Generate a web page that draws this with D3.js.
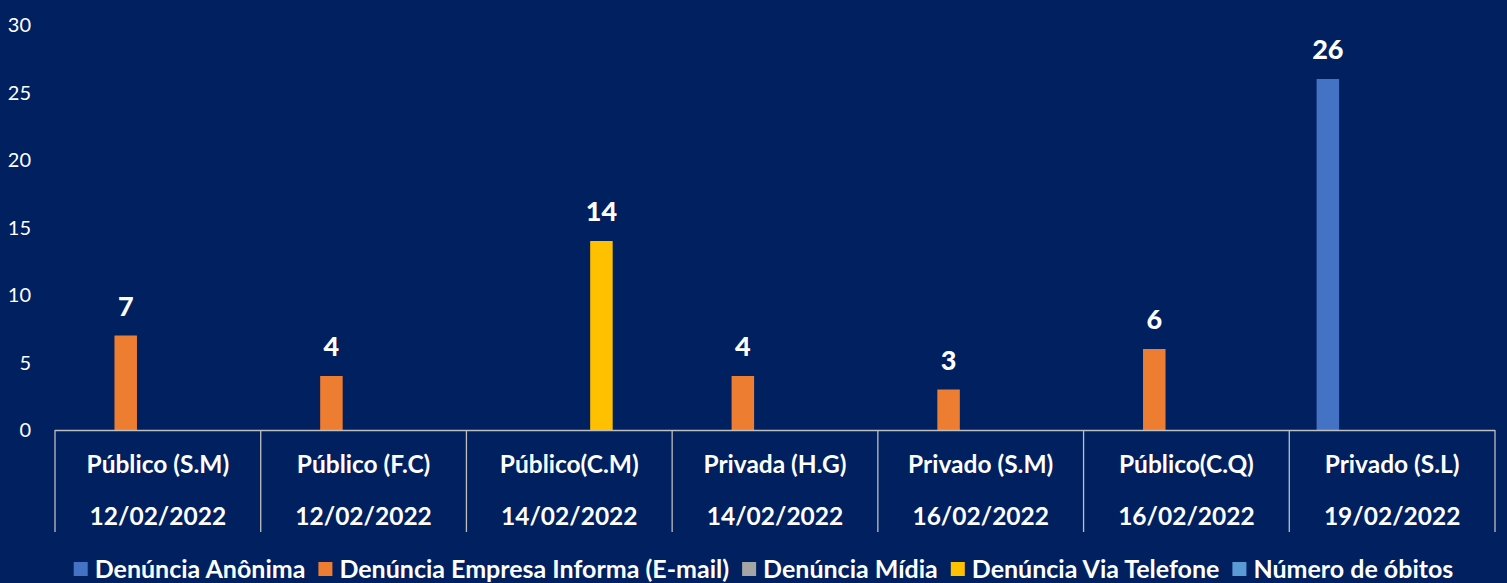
<!DOCTYPE html>
<html>
<head>
  <meta charset="utf-8">
  <script src="https://cdn.jsdelivr.net/npm/d3@7"></script>
  <style>
    html, body { margin: 0; padding: 0; background: #002060; }
    text { font-family: Lato, "Open Sans", sans-serif; fill: #ffffff; }
    .tick-label { font-size: 20px; }
    .cat-label { font-size: 24.5px; font-weight: 700; }
    .value-label { font-size: 27px; font-weight: 900; }
    .legend-label { font-size: 25px; font-weight: 700; }
  </style>
</head>
<body>
<div id="chart"></div>
<script type="text/javascript">

  // chart data
  var categories = ["Público (S.M)", "Público (F.C)", "Público(C.M)", "Privada (H.G)",
                    "Privado (S.M)", "Público(C.Q)", "Privado (S.L)"];
  var dates = ["12/02/2022", "12/02/2022", "14/02/2022", "14/02/2022",
               "16/02/2022", "16/02/2022", "19/02/2022"];
  var seriesNames = ["Denúncia Anônima", "Denúncia Empresa Informa (E-mail)",
                     "Denúncia Mídia", "Denúncia Via Telefone", "Número de óbitos"];
  var anonima  = [null, null, null, null, null, null, 26];
  var email    = [7, 4, null, 4, 3, 6, null];
  var midia    = [null, null, null, null, null, null, null];
  var telefone = [null, null, 14, null, null, null, null];
  var obitos   = [null, null, null, null, null, null, null];
  var yTicks = [0, 5, 10, 15, 20, 25, 30];
  var colors = ["#4472C4", "#ED7D31", "#A5A5A5", "#FFC000", "#5B9BD5"];

  var seriesValues = [anonima, email, midia, telefone, obitos];

  var W = 1507, H = 583;
  var plotLeft = 55, plotRight = 1495, plotTop = 25, plotBottom = 430;

  var svg = d3.select("#chart").append("svg")
      .attr("width", W).attr("height", H);

  svg.append("rect").attr("width", W).attr("height", H).attr("fill", "#002060");

  var x0 = d3.scaleBand().domain(categories).range([plotLeft, plotRight]);
  var x1 = d3.scaleBand().domain(seriesNames)
      .range([0, x0.bandwidth()]).paddingInner(0.3).paddingOuter(0.85);
  var y = d3.scaleLinear().domain([0, 30]).range([plotBottom, plotTop]);

  // y tick labels (no axis line, no gridlines)
  svg.selectAll(".tick-label").data(yTicks).enter().append("text")
      .attr("class", "tick-label")
      .attr("x", 31)
      .attr("y", function(d) { return y(d); })
      .attr("dy", "0.35em")
      .attr("text-anchor", "end")
      .text(function(d) { return d; });

  // bars
  var rows = [];
  seriesValues.forEach(function(vals, si) {
    vals.forEach(function(v, ci) {
      if (v !== null) rows.push({ s: si, c: ci, v: v });
    });
  });

  svg.selectAll(".bar").data(rows).enter().append("rect")
      .attr("class", "bar")
      .attr("x", function(d) { return x0(categories[d.c]) + x1(seriesNames[d.s]); })
      .attr("width", x1.bandwidth())
      .attr("y", function(d) { return y(d.v); })
      .attr("height", function(d) { return y(0) - y(d.v); })
      .attr("fill", function(d) { return colors[d.s]; });

  svg.selectAll(".value-label").data(rows).enter().append("text")
      .attr("class", "value-label")
      .attr("x", function(d) { return x0(categories[d.c]) + x1(seriesNames[d.s]) + x1.bandwidth() / 2; })
      .attr("y", function(d) { return y(d.v) - 20; })
      .attr("text-anchor", "middle")
      .text(function(d) { return d.v; });

  // x axis: base line and group separators
  var axisColor = "#BFBFBF";
  svg.append("line")
      .attr("x1", plotLeft).attr("x2", plotRight)
      .attr("y1", plotBottom + 0.5).attr("y2", plotBottom + 0.5)
      .attr("stroke", axisColor).attr("stroke-width", 1.3);

  var seps = categories.map(function(c) { return x0(c); }).concat([plotRight]);
  svg.selectAll(".sep").data(seps).enter().append("line")
      .attr("class", "sep")
      .attr("x1", function(d) { return d; }).attr("x2", function(d) { return d; })
      .attr("y1", plotBottom).attr("y2", 532)
      .attr("stroke", axisColor).attr("stroke-width", 1.3);

  svg.selectAll(".cat-label.name").data(categories).enter().append("text")
      .attr("class", "cat-label name")
      .attr("x", function(d) { return x0(d) + x0.bandwidth() / 2; })
      .attr("y", 464).attr("dy", "0.35em")
      .attr("text-anchor", "middle")
      .text(function(d) { return d; });

  svg.selectAll(".cat-label.date").data(dates).enter().append("text")
      .attr("class", "cat-label date")
      .attr("x", function(d, i) { return x0(categories[i]) + x0.bandwidth() / 2; })
      .attr("y", 516).attr("dy", "0.35em")
      .attr("text-anchor", "middle")
      .text(function(d) { return d; });

  // legend, centred
  var legend = svg.append("g");
  var sq = 14, gapText = 7, gapItem = 13, cursor = 0;
  seriesNames.forEach(function(name, i) {
    var g = legend.append("g").attr("transform", "translate(" + cursor + ",0)");
    g.append("rect").attr("x", 0).attr("y", -sq / 2).attr("width", sq).attr("height", sq)
        .attr("fill", colors[i]);
    var t = g.append("text").attr("class", "legend-label")
        .attr("x", sq + gapText).attr("dy", "0.35em").text(name);
    cursor += sq + gapText + t.node().getComputedTextLength() + gapItem;
  });
  var total = cursor - gapItem;
  legend.attr("transform", "translate(" + ((W - total) / 2 + 10) + ",569)");

</script>
</body>
</html>
